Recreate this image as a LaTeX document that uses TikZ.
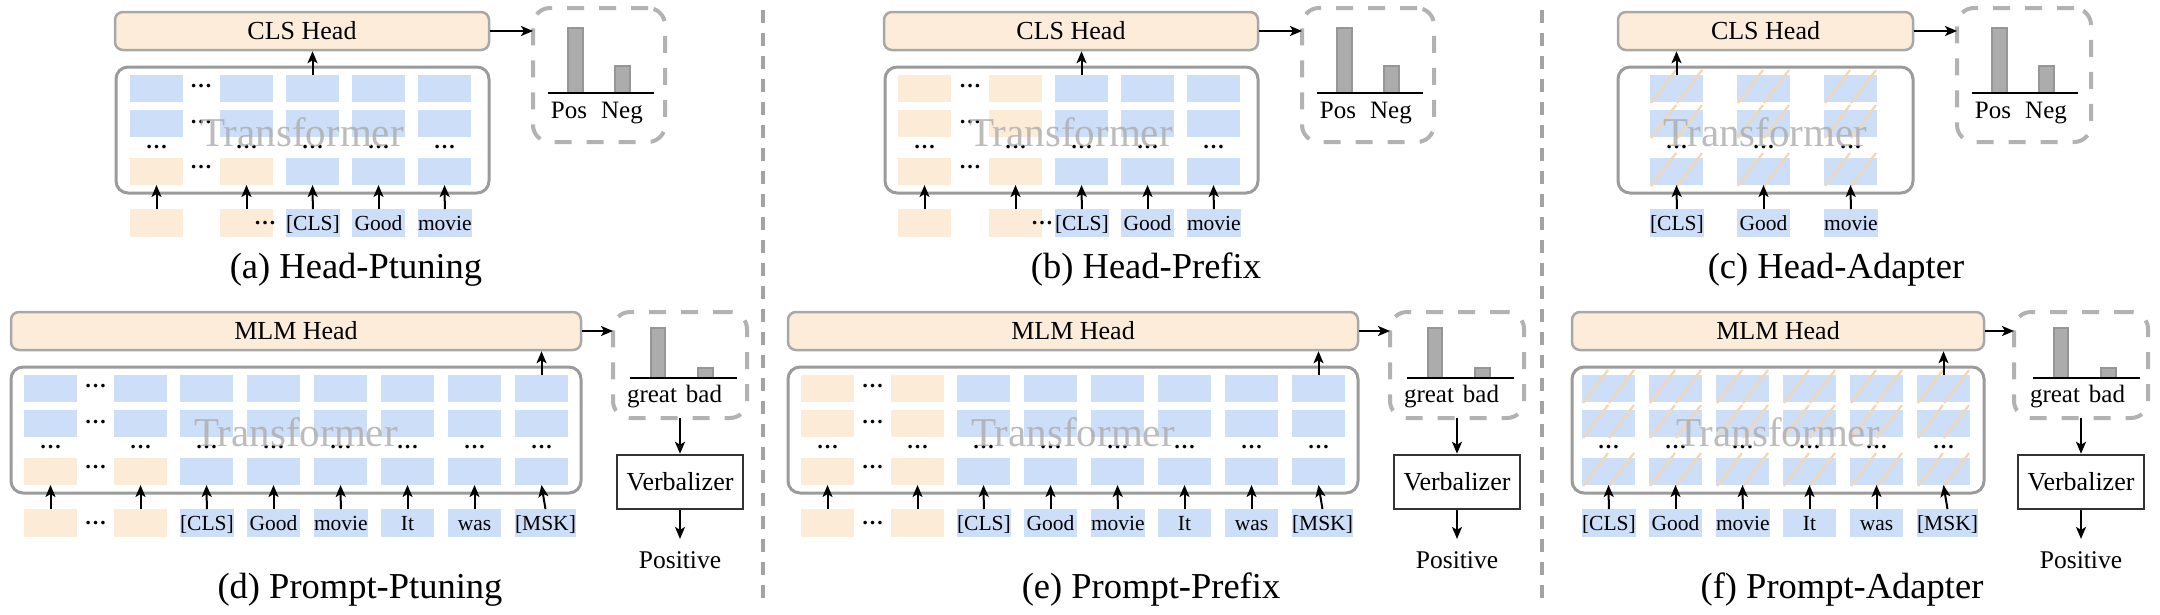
\documentclass[tikz,border=0pt]{standalone}
\usepackage{fontspec}
\setmainfont{Liberation Serif}
\usetikzlibrary{arrows.meta}
\definecolor{cblue}{RGB}{205,222,248}
\definecolor{cbeige}{RGB}{252,235,214}
\definecolor{hfill}{RGB}{252,236,217}
\definecolor{hdraw}{RGB}{168,168,168}
\definecolor{tdraw}{RGB}{155,155,155}
\definecolor{dashc}{RGB}{178,178,178}
\definecolor{sepc}{RGB}{163,163,163}
\definecolor{barf}{RGB}{172,172,172}
\definecolor{bard}{RGB}{150,150,150}
\definecolor{hatchc}{RGB}{243,214,180}
\definecolor{wmark}{RGB}{172,172,172}
\begin{document}
\begin{tikzpicture}[x=1pt,y=-1pt,
  cell/.style={anchor=north west, minimum width=53pt, minimum height=27pt, inner sep=0pt, outer sep=0pt},
  tok/.style={cell, minimum height=28pt, font=\fontsize{21.5}{24}\selectfont, text height=16pt, text depth=2pt, fill=cblue},
  otok/.style={tok, fill=cbeige},
  headbox/.style={draw=hdraw, line width=2.5pt, fill=hfill, rounded corners=8pt, inner sep=0pt, minimum height=38pt, font=\fontsize{26}{30}\selectfont},
  trans/.style={draw=tdraw, line width=3pt, fill=white, rounded corners=12pt, inner sep=0pt, minimum height=126pt},
  wm/.style={font=\fontsize{41}{45}\selectfont, text=wmark, opacity=0.8, anchor=base, inner sep=0pt},
  ell/.style={font=\bfseries\fontsize{22}{24}\selectfont, anchor=base, inner sep=0pt},
  arr/.style={line width=2pt, -{Stealth[length=12pt,width=10pt,inset=3pt]}},
  dbox/.style={draw=dashc, line width=4pt, dash pattern=on 17pt off 15pt, rounded corners=17pt, inner sep=0pt, outer sep=0pt, anchor=north west},
  barbox/.style={fill=barf, draw=bard, line width=1.5pt},
  axisline/.style={line width=2pt, draw=black},
  lab/.style={font=\fontsize{25}{28}\selectfont, anchor=base, inner sep=0pt},
  verbbox/.style={draw=black!80, line width=2.5pt, minimum width=126pt, minimum height=54pt, inner sep=0pt, font=\fontsize{26}{30}\selectfont},
  subcap/.style={font=\fontsize{36.5}{40}\selectfont, anchor=base, inner sep=0pt},
  sepline/.style={draw=sepc, line width=4pt, dash pattern=on 13pt off 10pt},
  hl/.style={draw=hatchc, line width=2.2pt},
]
\useasboundingbox (0,0) rectangle (2160,614);

% separators
\draw[sepline] (763,10) -- (763,603);
\draw[sepline] (1542,10) -- (1542,603);

%% ================= Panel A =================
\node[headbox, minimum width=374pt] (A-head) at (302,31) {CLS Head};
\node[trans, minimum width=373pt] (A-tr) at (302.5,130) {};
\foreach \x [count=\i] in {130,220,286,352,418}{
  \foreach \y [count=\j] in {75,110,158}{
    \ifnum\i<3 \ifnum\j=3 \def\fc{cbeige}\else\def\fc{cblue}\fi\else\def\fc{cblue}\fi
    \node[cell, fill=\fc] (A-\i-\j) at (\x,\y) {};
  }
  \node[ell] (A-dr\i) at (\x+26.5,148.5) {…};
}
\node[otok] (A-t1) at (130,209) {};
\node[otok] (A-t2) at (220,209) {};
\node[tok] (A-t3) at (286,209) {[CLS]};
\node[tok] (A-t4) at (352,209) {Good};
\node[tok] (A-t5) at (418,209) {movie};
\node[ell] (A-td) at (265,224.5) {…};
\node[ell] (A-d1) at (201,87.5) {…};
\node[ell] (A-d2) at (201,123.5) {…};
\node[ell] (A-d4) at (201,168.5) {…};
\node[wm] (A-wm) at (302,146) {Transformer};
\foreach \i in {1,...,5} \draw[arr] (A-t\i.north) -- (A-\i-3.south);
\draw[arr] (A-3-1.north) -- (A-3-1.north |- A-head.south);
\node[dbox, minimum width=132pt, minimum height=134pt] (A-dist) at (533,8) {};
\draw[arr] (A-head.east) -- (A-head.east -| A-dist.west);
\draw[barbox] (568,28) rectangle (583,93);
\draw[barbox] (615,66) rectangle (630,93);
\draw[axisline] (548,93) -- (654,93);
\node[lab] (A-pos) at (569,118) {Pos};
\node[lab] (A-neg) at (622,118) {Neg};
\node[subcap] (A-cap) at (356,278) {(a) Head-Ptuning};

%% ================= Panel B =================
\node[headbox, minimum width=374pt] (B-head) at (1071,31) {CLS Head};
\node[trans, minimum width=373pt] (B-tr) at (1071.5,130) {};
\foreach \x [count=\i] in {898,989,1055,1121,1187}{
  \foreach \y [count=\j] in {75,110,158}{
    \ifnum\i<3 \def\fc{cbeige}\else\def\fc{cblue}\fi
    \node[cell, fill=\fc] (B-\i-\j) at (\x,\y) {};
  }
  \node[ell] (B-dr\i) at (\x+26.5,148.5) {…};
}
\node[otok] (B-t1) at (898,209) {};
\node[otok] (B-t2) at (989,209) {};
\node[tok] (B-t3) at (1055,209) {[CLS]};
\node[tok] (B-t4) at (1121,209) {Good};
\node[tok] (B-t5) at (1187,209) {movie};
\node[ell] (B-td) at (1042,224.5) {…};
\node[ell] (B-d1) at (970,87.5) {…};
\node[ell] (B-d2) at (970,123.5) {…};
\node[ell] (B-d4) at (970,168.5) {…};
\node[wm] (B-wm) at (1071,146) {Transformer};
\foreach \i in {1,...,5} \draw[arr] (B-t\i.north) -- (B-\i-3.south);
\draw[arr] (B-3-1.north) -- (B-3-1.north |- B-head.south);
\node[dbox, minimum width=132pt, minimum height=134pt] (B-dist) at (1302,8) {};
\draw[arr] (B-head.east) -- (B-head.east -| B-dist.west);
\draw[barbox] (1337,28) rectangle (1352,93);
\draw[barbox] (1384,66) rectangle (1399,93);
\draw[axisline] (1317,93) -- (1423,93);
\node[lab] (B-pos) at (1338,118) {Pos};
\node[lab] (B-neg) at (1391,118) {Neg};
\node[subcap] (B-cap) at (1146,278) {(b) Head-Prefix};

%% ================= Panel C =================
\node[headbox, minimum width=295pt] (C-head) at (1765.5,31) {CLS Head};
\node[trans, minimum width=295pt] (C-tr) at (1765.5,130) {};
\foreach \x [count=\i] in {1650,1737,1824}{
  \foreach \y [count=\j] in {75,110,158}{
    \node[cell, fill=cblue] (C-\i-\j) at (\x,\y) {};
    \draw[hl] (\x+1,\y+28) -- (\x+26,\y-5);
    \draw[hl] (\x+27,\y+28) -- (\x+52,\y-5);
  }
  \node[ell] (C-dr\i) at (\x+26.5,148.5) {…};
}
\node[tok] (C-t1) at (1650,209) {[CLS]};
\node[tok] (C-t2) at (1737,209) {Good};
\node[tok] (C-t3) at (1824,209) {movie};
\node[wm] (C-wm) at (1765.5,146) {Transformer};
\foreach \i in {1,...,3} \draw[arr] (C-t\i.north) -- (C-\i-3.south);
\draw[arr] (C-1-1.north) -- (C-1-1.north |- C-head.south);
\node[dbox, minimum width=134pt, minimum height=134pt] (C-dist) at (1957,8) {};
\draw[arr] (C-head.east) -- (C-head.east -| C-dist.west);
\draw[barbox] (1992,28) rectangle (2007,93);
\draw[barbox] (2039,66) rectangle (2054,93);
\draw[axisline] (1972,93) -- (2078,93);
\node[lab] (C-pos) at (1993,118) {Pos};
\node[lab] (C-neg) at (2046,118) {Neg};
\node[subcap] (C-cap) at (1836,278) {(c) Head-Adapter};

%% ================= Panel D =================
\node[headbox, minimum width=570pt] (D-head) at (296,331) {MLM Head};
\node[trans, minimum width=570pt] (D-tr) at (296,430) {};
\foreach \x [count=\i] in {24,114,180,247,314,381,448,515}{
  \foreach \y [count=\j] in {375,410,458}{
    \ifnum\i<3 \ifnum\j=3 \def\fc{cbeige}\else\def\fc{cblue}\fi\else\def\fc{cblue}\fi
    \node[cell, fill=\fc] (D-\i-\j) at (\x,\y) {};
  }
  \node[ell] (D-dr\i) at (\x+26.5,448.5) {…};
}
\node[otok] (D-t1) at (24,509) {};
\node[otok] (D-t2) at (114,509) {};
\node[tok] (D-t3) at (180,509) {[CLS]};
\node[tok] (D-t4) at (247,509) {Good};
\node[tok] (D-t5) at (314,509) {movie};
\node[tok] (D-t6) at (381,509) {It};
\node[tok] (D-t7) at (448,509) {was};
\node[tok] (D-t8) at (515,509) {[MSK]};
\node[ell] (D-td) at (95.5,524.5) {…};
\node[ell] (D-d1) at (95.5,387.5) {…};
\node[ell] (D-d2) at (95.5,423.5) {…};
\node[ell] (D-d4) at (95.5,468.5) {…};
\node[wm] (D-wm) at (296,446) {Transformer};
\foreach \i in {1,...,8} \draw[arr] (D-t\i.north) -- (D-\i-3.south);
\draw[arr] (D-8-1.north) -- (D-8-1.north |- D-head.south);
\node[dbox, minimum width=134pt, minimum height=106pt] (D-dist) at (613,312) {};
\draw[arr] (D-head.east) -- (D-head.east -| D-dist.west);
\draw[barbox] (651,328) rectangle (665,378);
\draw[barbox] (698,368) rectangle (713,378);
\draw[axisline] (630,378) -- (737,378);
\node[lab] (D-great) at (652,402) {great};
\node[lab] (D-bad) at (704,402) {bad};
\node[verbbox] (D-verb) at (680,482) {Verbalizer};
\draw[arr] (D-dist.south) -- (D-dist.south |- D-verb.north);
\node[lab, font=\fontsize{25.5}{28}\selectfont] (D-posit) at (680,568) {Positive};
\draw[arr, shorten >=12pt] (D-verb.south) -- (D-posit.north);
\node[subcap] (D-cap) at (360,598) {(d) Prompt-Ptuning};

%% ================= Panel E =================
\node[headbox, minimum width=570pt] (E-head) at (1073,331) {MLM Head};
\node[trans, minimum width=570pt] (E-tr) at (1073,430) {};
\foreach \x [count=\i] in {801,891,957,1024,1091,1158,1225,1292}{
  \foreach \y [count=\j] in {375,410,458}{
    \ifnum\i<3 \def\fc{cbeige}\else\def\fc{cblue}\fi
    \node[cell, fill=\fc] (E-\i-\j) at (\x,\y) {};
  }
  \node[ell] (E-dr\i) at (\x+26.5,448.5) {…};
}
\node[otok] (E-t1) at (801,509) {};
\node[otok] (E-t2) at (891,509) {};
\node[tok] (E-t3) at (957,509) {[CLS]};
\node[tok] (E-t4) at (1024,509) {Good};
\node[tok] (E-t5) at (1091,509) {movie};
\node[tok] (E-t6) at (1158,509) {It};
\node[tok] (E-t7) at (1225,509) {was};
\node[tok] (E-t8) at (1292,509) {[MSK]};
\node[ell] (E-td) at (872.5,524.5) {…};
\node[ell] (E-d1) at (872.5,387.5) {…};
\node[ell] (E-d2) at (872.5,423.5) {…};
\node[ell] (E-d4) at (872.5,468.5) {…};
\node[wm] (E-wm) at (1073,446) {Transformer};
\foreach \i in {1,...,8} \draw[arr] (E-t\i.north) -- (E-\i-3.south);
\draw[arr] (E-8-1.north) -- (E-8-1.north |- E-head.south);
\node[dbox, minimum width=134pt, minimum height=106pt] (E-dist) at (1390,312) {};
\draw[arr] (E-head.east) -- (E-head.east -| E-dist.west);
\draw[barbox] (1428,328) rectangle (1442,378);
\draw[barbox] (1475,368) rectangle (1490,378);
\draw[axisline] (1407,378) -- (1514,378);
\node[lab] (E-great) at (1429,402) {great};
\node[lab] (E-bad) at (1481,402) {bad};
\node[verbbox] (E-verb) at (1457,482) {Verbalizer};
\draw[arr] (E-dist.south) -- (E-dist.south |- E-verb.north);
\node[lab, font=\fontsize{25.5}{28}\selectfont] (E-posit) at (1457,568) {Positive};
\draw[arr, shorten >=12pt] (E-verb.south) -- (E-posit.north);
\node[subcap] (E-cap) at (1151,598) {(e) Prompt-Prefix};

%% ================= Panel F =================
\node[headbox, minimum width=412pt] (F-head) at (1778,331) {MLM Head};
\node[trans, minimum width=412pt] (F-tr) at (1778,430) {};
\foreach \x [count=\i] in {1582,1649,1716,1783,1850,1917}{
  \foreach \y [count=\j] in {375,410,458}{
    \node[cell, fill=cblue] (F-\i-\j) at (\x,\y) {};
    \draw[hl] (\x+1,\y+28) -- (\x+26,\y-5);
    \draw[hl] (\x+27,\y+28) -- (\x+52,\y-5);
  }
  \node[ell] (F-dr\i) at (\x+26.5,448.5) {…};
}
\node[tok] (F-t1) at (1582,509) {[CLS]};
\node[tok] (F-t2) at (1649,509) {Good};
\node[tok] (F-t3) at (1716,509) {movie};
\node[tok] (F-t4) at (1783,509) {It};
\node[tok] (F-t5) at (1850,509) {was};
\node[tok] (F-t6) at (1917,509) {[MSK]};
\node[wm] (F-wm) at (1778,446) {Transformer};
\foreach \i in {1,...,6} \draw[arr] (F-t\i.north) -- (F-\i-3.south);
\draw[arr] (F-6-1.north) -- (F-6-1.north |- F-head.south);
\node[dbox, minimum width=134pt, minimum height=106pt] (F-dist) at (2014,312) {};
\draw[arr] (F-head.east) -- (F-head.east -| F-dist.west);
\draw[barbox] (2054,328) rectangle (2068,378);
\draw[barbox] (2101,368) rectangle (2116,378);
\draw[axisline] (2033,378) -- (2140,378);
\node[lab] (F-great) at (2055,402) {great};
\node[lab] (F-bad) at (2107,402) {bad};
\node[verbbox] (F-verb) at (2081,482) {Verbalizer};
\draw[arr] (F-dist.south) -- (F-dist.south |- F-verb.north);
\node[lab, font=\fontsize{25.5}{28}\selectfont] (F-posit) at (2081,568) {Positive};
\draw[arr, shorten >=12pt] (F-verb.south) -- (F-posit.north);
\node[subcap] (F-cap) at (1842,598) {(f) Prompt-Adapter};
\end{tikzpicture}
\end{document}
